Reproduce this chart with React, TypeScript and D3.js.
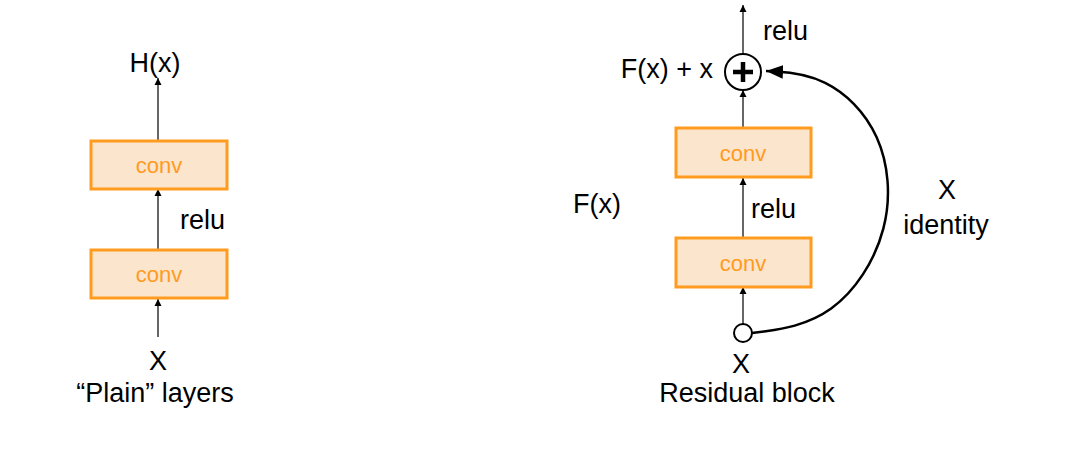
import React from "react";
import * as d3 from "d3";

const plainBoxes = [{ y: 141, label: "conv" }, { y: 250, label: "conv" }];
const resBoxes = [{ y: 128, label: "conv" }, { y: 238, label: "conv" }];
const labels = [
  { x: 155, y: 72, t: "H(x)", a: "middle" },
  { x: 180, y: 229, t: "relu", a: "start" },
  { x: 158, y: 370, t: "X", a: "middle" },
  { x: 155, y: 402, t: "“Plain” layers", a: "middle" },
  { x: 763, y: 40, t: "relu", a: "start" },
  { x: 713, y: 78, t: "F(x) + x", a: "end" },
  { x: 597, y: 213, t: "F(x)", a: "middle" },
  { x: 751, y: 218, t: "relu", a: "start" },
  { x: 741, y: 373, t: "X", a: "middle" },
  { x: 747, y: 402, t: "Residual block", a: "middle" },
  { x: 947, y: 199, t: "X", a: "middle" },
  { x: 946, y: 234, t: "identity", a: "middle" },
];
const arrows = [
  [158, 337, 158, 299], [158, 250, 158, 189], [158, 141, 158, 78],
  [743, 324, 743, 287], [743, 238, 743, 178], [743, 128, 743, 90], [743, 54, 743, 5],
];

export default function App() {
  const curve = d3.line<[number, number]>().curve(d3.curveBasis)([
    [752, 333], [835, 322], [895, 230], [885, 130], [825, 74], [766, 71],
  ]) as string;
  return (
    <svg width={1070} height={449} style={{ position: "absolute", left: 0, top: 0, background: "#fff" }}
      fontFamily="Liberation Sans, Arial, sans-serif">
      <defs>
        <marker id="a" viewBox="0 0 10 10" refX="10" refY="5" markerWidth="7" markerHeight="8" markerUnits="userSpaceOnUse" orient="auto">
          <path d="M0,0L10,5L0,10z" fill="#000" />
        </marker>
        <marker id="b" viewBox="0 0 10 10" refX="10" refY="5" markerWidth="17" markerHeight="17" markerUnits="userSpaceOnUse" orient="auto">
          <path d="M0,1L10,5L0,9z" fill="#000" />
        </marker>
      </defs>
      {arrows.map((a, i) => (
        <line key={i} x1={a[0]} y1={a[1]} x2={a[2]} y2={a[3]} stroke="#000" strokeWidth={1.2} markerEnd="url(#a)" />
      ))}
      {plainBoxes.map((b, i) => (
        <g key={i}>
          <rect x={91} y={b.y} width={136} height={48} fill="#fce5cd" stroke="#ff9b1f" strokeWidth={3} />
          <text x={159} y={b.y + 32} textAnchor="middle" fontSize={22} fill="#ff9b1f">{b.label}</text>
        </g>
      ))}
      {resBoxes.map((b, i) => (
        <g key={i}>
          <rect x={676} y={b.y} width={135} height={49} fill="#fce5cd" stroke="#ff9b1f" strokeWidth={3} />
          <text x={743} y={b.y + 33} textAnchor="middle" fontSize={22} fill="#ff9b1f">{b.label}</text>
        </g>
      ))}
      <circle cx={743} cy={72} r={18} fill="#fff" stroke="#000" strokeWidth={2} />
      <path d="M743,62V82M733,72H753" stroke="#000" strokeWidth={4.5} />
      <circle cx={743} cy={333} r={9} fill="#fff" stroke="#000" strokeWidth={2} />
      <path d={curve} fill="none" stroke="#000" strokeWidth={2.5} markerEnd="url(#b)" />
      {labels.map((l, i) => (
        <text key={i} x={l.x} y={l.y} textAnchor={l.a as any} fontSize={27} fill="#000">{l.t}</text>
      ))}
    </svg>
  );
}
